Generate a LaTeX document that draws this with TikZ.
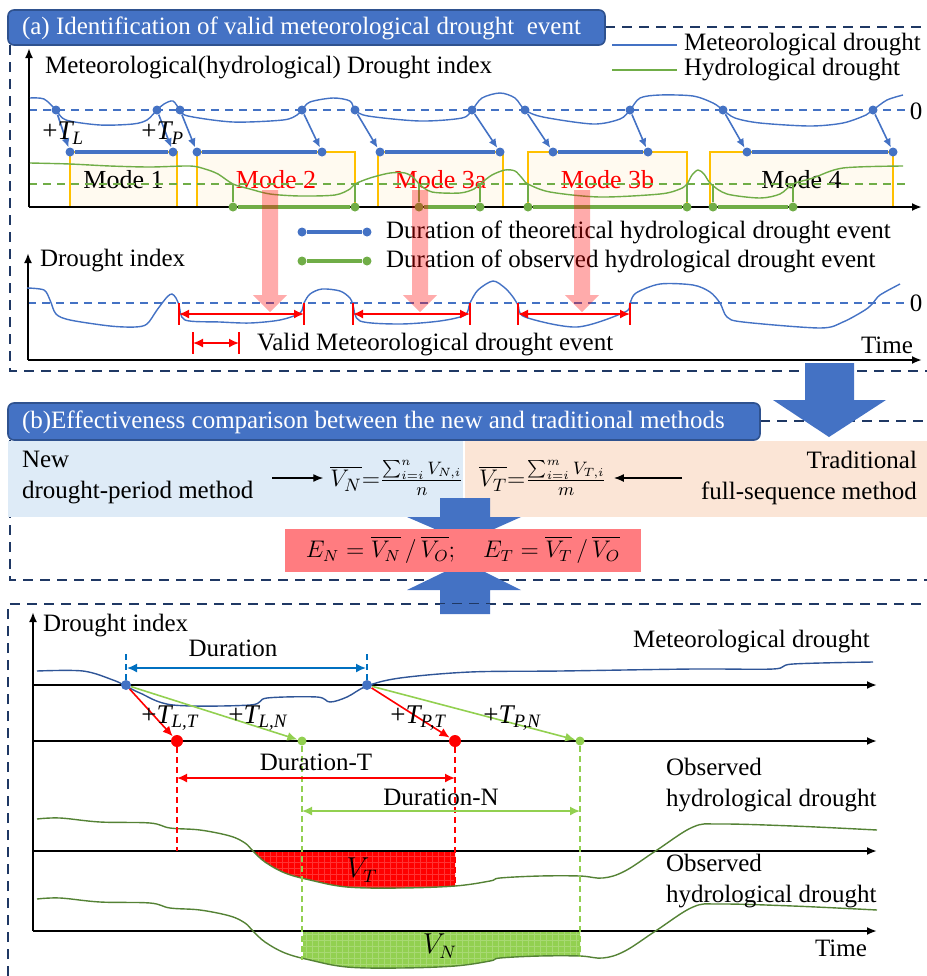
\documentclass[tikz,border=0pt]{standalone}
\usepackage{fontspec}
\setmainfont{Liberation Serif}
\usepackage{amsmath,amssymb}
\usepackage{xcolor}
\usepackage{tikz}
\usetikzlibrary{arrows.meta,positioning,calc,patterns}
\definecolor{bannerblue}{RGB}{68,114,196}
\definecolor{bannerline}{RGB}{47,82,143}
\definecolor{framenavy}{RGB}{31,56,100}
\definecolor{metblue}{RGB}{68,114,196}
\definecolor{hydgreen}{RGB}{112,173,71}
\definecolor{modeyellow}{RGB}{255,192,0}
\definecolor{modefill}{RGB}{255,250,240}
\definecolor{panelblue}{RGB}{222,235,247}
\definecolor{panelpeach}{RGB}{251,229,214}
\definecolor{resultred}{RGB}{255,124,128}
\definecolor{darkblue}{RGB}{47,85,151}
\definecolor{darkgreen}{RGB}{84,130,53}
\definecolor{lightgreen}{RGB}{146,208,80}
\definecolor{durblue}{RGB}{0,112,192}
\newcommand{\hydcurve}{plot[smooth, tension=0.6] coordinates {(37,819) (60,818) (100,822) (150,823) (170,828) (200,830) (230,836) (245,843) (253,851) (265,862) (285,873) (310,880) (347,887) (400,888) (455,886) (490,881) (500,878) (540,876) (580,876) (603,878) (625,871) (657,850) (693,827) (720,824) (793,826) (877,830)}}

\begin{document}
\begin{tikzpicture}[x=0.5pt, y=-0.5pt, font=\fontsize{12.5}{15.5}\selectfont,
	dashframe/.style={draw=framenavy, line width=1pt, dash pattern=on 5pt off 3.5pt},
	banner/.style={draw=bannerline, line width=0.8pt, rounded corners=3pt, fill=bannerblue},
	bannertext/.style={anchor=west, text=white, font=\fontsize{12.5}{15}\selectfont},
	plotaxis/.style={line width=1pt, -{Latex[length=5pt,width=4pt]}},
	zeroline/.style={line width=0.7pt, dash pattern=on 4pt off 3pt},
	metline/.style={metblue, line width=0.7pt},
	hydline/.style={hydgreen, line width=0.7pt},
	modebox/.style={draw=modeyellow, line width=0.8pt, fill=modefill, minimum height=27.5pt, inner sep=0pt, font=\fontsize{13}{14}\selectfont},
	bdot/.style={circle, fill=metblue, inner sep=0pt, minimum size=4.5pt},
	gdot/.style={circle, fill=hydgreen, inner sep=0pt, minimum size=4.5pt},
	barrow/.style={metblue, line width=0.8pt, -{Latex[length=4.5pt,width=4pt]}},
	theoline/.style={metblue, line width=1.6pt},
	obsline/.style={hydgreen, line width=1.6pt},
	pinkarrow/.style={fill=red, opacity=0.33},
	validarrow/.style={red, line width=0.8pt, {Latex[length=5pt,width=4.5pt]}-{Latex[length=5pt,width=4.5pt]}},
	validbar/.style={red, line width=0.8pt},
	blackarrow/.style={line width=0.7pt, -{Latex[length=5pt,width=4pt]}},
	bigarrow/.style={fill=bannerblue},
	cdot/.style={circle, fill=metblue, inner sep=0pt, minimum size=5pt},
	rdot/.style={circle, fill=red, inner sep=0pt, minimum size=6pt},
	ldot/.style={circle, fill=lightgreen, inner sep=0pt, minimum size=4.5pt},
	redarrow/.style={red, line width=0.8pt, -{Latex[length=5pt,width=4.5pt]}},
	greenarrow/.style={lightgreen, line width=0.8pt, -{Latex[length=5pt,width=4.5pt]}},
	reddash/.style={red, line width=0.7pt, dash pattern=on 3pt off 2pt},
	greendash/.style={lightgreen, line width=0.7pt, dash pattern=on 3pt off 2pt},
	durdash/.style={durblue, line width=0.7pt, dash pattern=on 3pt off 2pt},
	]
	\useasboundingbox (0,0) rectangle (927,976);

	% (a) identification of valid events
	\draw[dashframe] (605,27) -- (927,27);
	\draw[dashframe] (10,45) -- (10,371) -- (927,371);
	\draw[banner] (8,10) rectangle (605,45);
	\node[bannertext] (titleA) at (15,28) {(a) Identification of valid meteorological drought\ \ event};

	\node[anchor=west] (legmet) at (677,45) {Meteorological drought};
	\node[anchor=west] (leghyd) at (677,70) {Hydrological drought};
	\draw[metline] (612,45) -- (legmet.west);
	\draw[hydline] (612,70) -- (leghyd.west);
	\node[anchor=west] (ylabA) at (38,68) {Meteorological(hydrological) Drought index};

	\foreach \xa/\xb/\txt/\col [count=\i] in {70/177/Mode 1/black, 197/355/Mode 2/red, 378/503/Mode 3a/red, 528/687/Mode 3b/red, 710/893/Mode 4/black}
		\node[modebox, minimum width={(\xb-\xa)/2*1pt}, text=\col] (mode\i) at ({(\xa+\xb)/2},179.5) {\txt};

	\draw[zeroline, metblue] (29,110) -- (905,110);
	\draw[zeroline, hydgreen] (29,184) -- (905,184);
	\node (zeroA) at (916,111) {0};
	\draw[plotaxis] (29,207) -- (29,48);
	\draw[plotaxis] (29,207) -- (922,207);

	\draw[metline] plot[smooth, tension=0.5] coordinates {(30,98) (44,99) (56,110) (66,120) (100,125) (133,124) (147,120) (157,110) (164,104) (173,101) (180,110) (188,116) (233,122) (283,120) (297,115) (302,110) (310,102) (333,98) (350,101) (355,110) (368,116) (420,121) (462,118) (472,110) (482,98) (500,93) (515,98) (525,110) (543,117) (593,124) (620,119) (630,110) (640,98) (660,95) (693,96) (713,103) (723,110) (735,118) (760,123) (810,126) (843,123) (866,115) (873,110) (887,100) (903,95)};
	\draw[hydline] plot[smooth, tension=0.5] coordinates {(30,163) (70,164) (110,166) (150,167) (190,166) (205,169) (218,174) (233,184) (250,189) (270,194) (300,196) (335,195) (350,189) (355,184) (370,178) (390,173) (405,173) (414,178) (419,184) (432,192) (460,193) (474,189) (480,184) (492,175) (505,170) (515,171) (522,178) (528,184) (550,192) (600,197) (660,194) (680,189) (687,184) (692,175) (698,170) (704,174) (711,184) (727,194) (760,198) (780,194) (793,184) (813,178) (843,168) (903,166)};

	\foreach \x [count=\i] in {233,355,419,480,528,687,713,793} {
		\node[gdot] (o\i) at (\x,207) {};
		\draw[hydgreen, line width=0.7pt] (\x,184) -- (o\i);
	}
	\foreach \i/\j in {1/2,3/4,5/6,7/8}
		\draw[obsline] (o\i) -- (o\j);

	\foreach \x [count=\i] in {56,157,180,302,355,472,525,630,723,873}
		\node[bdot] (c\i) at (\x,110) {};
	\foreach \x [count=\i] in {70,173,197,322,380,500,553,648,747,893}
		\node[bdot] (t\i) at (\x,152) {};
	\foreach \i in {1,...,10}
		\draw[barrow] (c\i) -- (t\i);
	\foreach \i/\j in {1/2,3/4,5/6,7/8,9/10}
		\draw[theoline] (t\i) -- (t\j);
	\node[anchor=west, inner sep=0pt, font=\fontsize{13.5}{15}\selectfont] (tl) at (42,133) {+\textit{T\textsubscript{L}}};
	\node[anchor=west, inner sep=0pt, font=\fontsize{13.5}{15}\selectfont] (tp) at (141,133) {+\textit{T\textsubscript{P}}};

	\node[anchor=west] (legtheo) at (379,232) {Duration of theoretical hydrological drought event};
	\node[anchor=west] (legobs) at (379,261) {Duration of observed hydrological drought event};
	\node[bdot] (lt1) at (302,232) {};
	\node[bdot] (lt2) at (367,232) {};
	\node[gdot] (lo1) at (302,261) {};
	\node[gdot] (lo2) at (367,261) {};
	\draw[theoline] (lt1) -- (lt2);
	\draw[obsline] (lo1) -- (lo2);

	\node[anchor=west] (ylabB) at (33,261) {Drought index};
	\draw[zeroline, metblue] (28,303) -- (905,303);
	\node (zeroB) at (916,303) {0};
	\draw[plotaxis] (28,360) -- (28,253);
	\draw[plotaxis] (28,360) -- (922,360);
	\node[anchor=east] (timeA) at (920,345) {Time};
	\draw[metline] plot[smooth, tension=0.5] coordinates {(27,288) (44,290) (50,300) (56,314) (70,320) (110,326) (135,327) (147,324) (157,310) (167,297) (172,294) (176,298) (179,305) (185,320) (220,322) (250,323) (280,320) (300,313) (304,303) (310,294) (322,289) (340,291) (350,298) (353,305) (360,321) (400,324) (440,321) (465,315) (470,303) (478,290) (493,281) (505,288) (513,297) (518,305) (525,317) (577,327) (625,312) (630,303) (636,293) (660,284) (693,285) (710,292) (720,303) (727,317) (743,322) (820,328) (843,322) (865,310) (873,303) (880,295) (900,284)};

	\foreach \a/\b/\y [count=\i] in {179/304/314, 353/470/314, 518/630/314, 193/239/343} {
		\coordinate (va\i) at (\a,\y);
		\coordinate (vb\i) at (\b,\y);
		\draw[validarrow] (va\i) -- (vb\i);
		\draw[validbar] ($(va\i)+(0,-11)$) -- ($(va\i)+(0,11)$);
		\draw[validbar] ($(vb\i)+(0,-11)$) -- ($(vb\i)+(0,11)$);
	}
	\node[anchor=west] (legvalid) at (250,345) {Valid Meteorological drought event};

	\foreach \x in {270,420,582}
		\fill[pinkarrow] (\x-8,190) -- (\x+8,190) -- (\x+8,295) -- (\x+17,295) -- (\x,312) -- (\x-17,295) -- (\x-8,295) -- cycle;

	% (b) comparison of methods
	\draw[dashframe] (760,421) -- (927,421);
	\draw[dashframe] (10,440) -- (10,580) -- (927,580);
	\fill[panelblue] (8,441) rectangle (463,517);
	\fill[panelpeach] (465,441) rectangle (927,517);
	\draw[banner] (8,403) rectangle (760,440);
	\fill[bigarrow] (805,363) -- (854,363) -- (854,400) -- (886,400) -- (829,437) -- (773,400) -- (805,400) -- cycle;
	\node[bannertext] (titleB) at (15,422) {(b)Effectiveness comparison between the new and traditional methods};

	\node[anchor=west, align=left] (newm) at (15,478) {New\\drought-period method};
	\node (vn) at (397,478) {$\overline{V_N}{=}\frac{\sum_{i=i}^{n}V_{N,i}}{n}$};
	\node[anchor=east, align=right] (tradm) at (924,478) {Traditional\\full-sequence method};
	\node (vt) at (543,478) {$\overline{V_T}{=}\frac{\sum_{i=i}^{m}V_{T,i}}{m}$};
	\draw[blackarrow] (272,478) -- (vn);
	\draw[blackarrow] (682,478) -- (vt);

	\fill[bigarrow] (440,498) -- (490,498) -- (490,517) -- (521,517) -- (465,542) -- (407,517) -- (440,517) -- cycle;
	\fill[bigarrow] (440,614) -- (490,614) -- (490,590) -- (521,590) -- (465,562) -- (407,590) -- (440,590) -- cycle;
	\node[fill=resultred, minimum width=178pt, minimum height=21.5pt, font=\fontsize{12}{14}\selectfont] (eff) at (463,550) {$E_N=\overline{V_N}\,/\,\overline{V_O};\quad E_T=\overline{V_T}\,/\,\overline{V_O}$};

	% (c) lag times and drought volumes
	\draw[dashframe] (8,976) -- (8,604) -- (927,604);
	\fill[bigarrow] (440,604) -- (490,604) -- (490,614) -- (440,614) -- cycle;

	\begin{scope}
		\clip (253,851) rectangle (455,910);
		\path[fill=red, postaction={pattern=grid, pattern color=red!80!white}] \hydcurve -- (877,851) -- (37,851) -- cycle;
	\end{scope}
	\begin{scope}[shift={(0,80)}]
		\clip (303,851) rectangle (580,910);
		\path[fill=lightgreen, postaction={pattern=grid, pattern color=lightgreen!80!white}] \hydcurve -- (877,851) -- (37,851) -- cycle;
	\end{scope}

	\node[anchor=west] (ylabC) at (36,626) {Drought index};
	\draw[plotaxis] (33,931) -- (33,612);
	\foreach \y in {685,741,851,931}
		\draw[plotaxis] (33,\y) -- (877,\y);
	\node[anchor=east] (timeC) at (874,948) {Time};

	\draw[darkblue, line width=0.7pt] plot[smooth, tension=0.55] coordinates {(37,671) (83,671) (113,680) (126,686) (140,693) (173,705) (250,705) (267,698) (317,697) (330,702) (347,697) (367,686) (400,678) (470,672) (560,671) (693,669) (773,669) (793,664) (873,662)};
	\draw[darkgreen, line width=0.7pt] \hydcurve;
	\begin{scope}[shift={(0,80)}]
		\draw[darkgreen, line width=0.7pt] \hydcurve;
	\end{scope}

	\node[cdot] (d1) at (126,685) {};
	\node[cdot] (d2) at (367,685) {};
	\node[rdot] (r1) at (177,741) {};
	\node[rdot] (r2) at (455,741) {};
	\node[ldot] (g1) at (302,741) {};
	\node[ldot] (g2) at (580,741) {};

	\draw[durdash] (d1) -- ++(0,-35);
	\draw[durdash] (d2) -- ++(0,-35);
	\coordinate (du1) at (127,668);
	\coordinate (du2) at (366,668);
	\draw[durblue, line width=0.8pt, {Latex[length=5pt,width=4.5pt]}-{Latex[length=5pt,width=4.5pt]}] (du1) -- (du2);
	\node (durlab) at (233,648) {Duration};

	\draw[greenarrow] (d1) -- (g1);
	\draw[greenarrow] (d2) -- (g2);
	\draw[redarrow] (d1) -- (r1);
	\draw[redarrow] (d2) -- (r2);
	\node[anchor=west, inner sep=0pt, font=\fontsize{13.5}{15}\selectfont] (tlt) at (141,718) {+\textit{T\textsubscript{L,T}}};
	\node[anchor=west, inner sep=0pt, font=\fontsize{13.5}{15}\selectfont] (tln) at (228,718) {+\textit{T\textsubscript{L,N}}};
	\node[anchor=west, inner sep=0pt, font=\fontsize{13.5}{15}\selectfont] (tpt) at (390,718) {+\textit{T\textsubscript{P,T}}};
	\node[anchor=west, inner sep=0pt, font=\fontsize{13.5}{15}\selectfont] (tpn) at (483,718) {+\textit{T\textsubscript{P,N}}};

	\draw[reddash] (r1) -- (177,851);
	\draw[reddash] (r2) -- (455,886);
	\draw[greendash] (g1) -- (302,960);
	\draw[greendash] (g2) -- (580,956);
	\coordinate (dtl) at (177,778);
	\coordinate (dtr) at (455,778);
	\coordinate (dnl) at (302,811);
	\coordinate (dnr) at (580,811);
	\draw[red, line width=0.8pt, {Latex[length=5pt,width=4.5pt]}-{Latex[length=5pt,width=4.5pt]}] (dtl) -- (dtr);
	\draw[lightgreen, line width=0.8pt, {Latex[length=5pt,width=4.5pt]}-{Latex[length=5pt,width=4.5pt]}] (dnl) -- (dnr);
	\node (durt) at (316,762) {Duration-T};
	\node (durn) at (441,797) {Duration-N};

	\node[anchor=west] (metlab) at (626,642) {Meteorological drought};
	\node[anchor=west, align=left] (obslab1) at (659,785) {Observed\\hydrological drought};
	\node[anchor=west, align=left] (obslab2) at (659,881) {Observed\\hydrological drought};
	\node[font=\fontsize{13.5}{15}\selectfont] (vtlab) at (362,870) {$V_T$};
	\node[font=\fontsize{13.5}{15}\selectfont] (vnlab) at (440,946) {$V_N$};
\end{tikzpicture}
\end{document}
